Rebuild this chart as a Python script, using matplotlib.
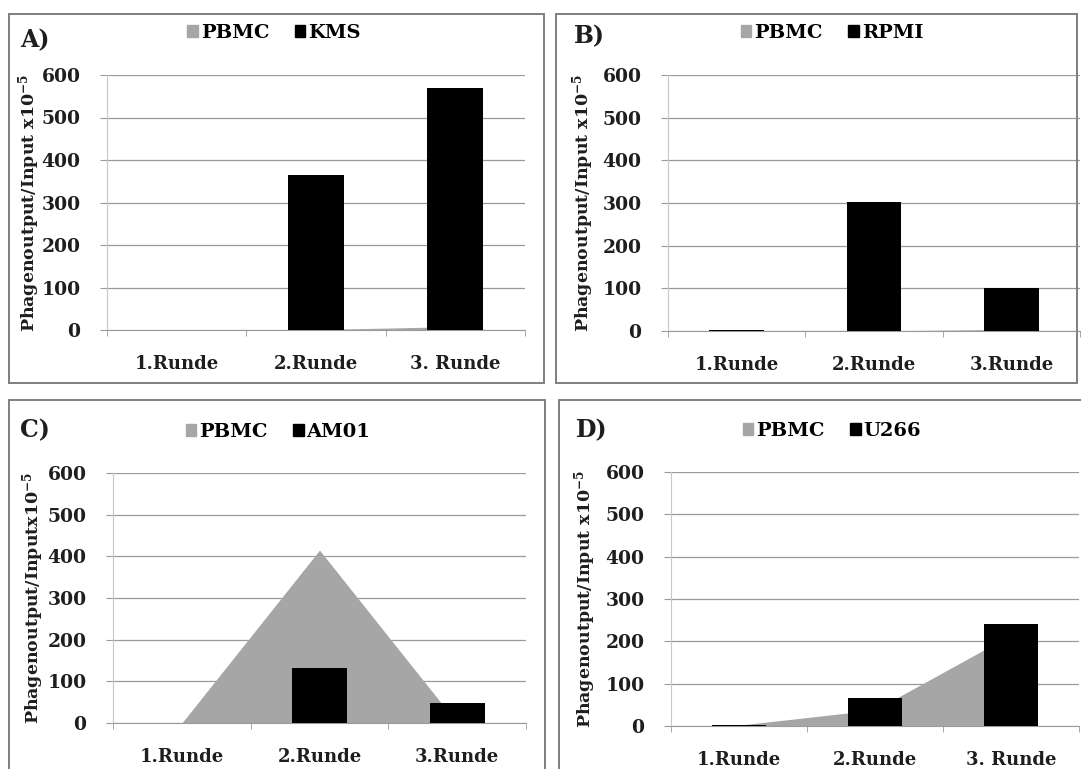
import numpy as np
import matplotlib.pyplot as plt
from matplotlib.patches import Rectangle, Patch

# data
runden_a = ['1.Runde', '2.Runde', '3. Runde']
runden_b = ['1.Runde', '2.Runde', '3.Runde']
runden_c = ['1.Runde', '2.Runde', '3.Runde']
runden_d = ['1.Runde', '2.Runde', '3. Runde']

pbmc_a = [0, 1, 8]
kms = [0, 365, 570]
pbmc_b = [0, 0, 4]
rpmi = [2, 302, 100]
pbmc_c = [0, 415, 0]
am01 = [0, 133, 49]
pbmc_d = [2, 38, 215]
u266 = [2, 65, 242]

plt.rcParams['font.family'] = ['DejaVu Serif']
plt.rcParams['mathtext.fontset'] = 'dejavuserif'

W, H = 1081, 769
fig = plt.figure(figsize=(W / 100, H / 100), dpi=100)
fig.patch.set_facecolor('white')

GRAY = '#a6a6a6'
LINE = '#9a9a9a'
BOX = '#7f7f7f'
TXT = '#1e1e1e'


def px_axes(l, r, t, b):
    return fig.add_axes([l / W, 1 - b / H, (r - l) / W, (b - t) / H])


def box(l, t, r, b):
    fig.add_artist(Rectangle((l / W, 1 - b / H), (r - l) / W, (b - t) / H,
                             transform=fig.transFigure, fill=False,
                             edgecolor=BOX, lw=1.4))


def panel(ax, pbmc, cell, cell_name, cats, letter, ylab, lab_x, leg_x, leg_y, let_x, let_y):
    x = np.arange(len(cats))
    ax.fill_between(x, 0, pbmc, color=GRAY, lw=0, zorder=2)
    ax.bar(x, cell, width=0.4, color='black', zorder=3)
    ax.set_xlim(-0.5, 2.5)
    ax.set_ylim(0, 600)
    ax.set_yticks(range(0, 601, 100))
    ax.grid(axis='y', color=LINE, lw=0.9, zorder=0)
    ax.set_xticks(x)
    ax.set_xticklabels(cats, fontsize=13, fontweight='semibold', color=TXT)
    ax.set_xticks([-0.5, 0.5, 1.5, 2.5], minor=True)
    ax.tick_params(axis='x', which='major', length=0, pad=18)
    ax.tick_params(axis='x', which='minor', length=4, color=LINE, direction='out')
    ax.tick_params(axis='y', length=5, color=LINE, pad=14, labelsize=13.5)
    for t in ax.get_yticklabels():
        t.set_fontweight('semibold')
        t.set_color(TXT)
    for s in ['top', 'right']:
        ax.spines[s].set_visible(False)
    ax.spines['left'].set_color('#c8c8c8')
    ax.spines['bottom'].set_color(LINE)
    ax.set_facecolor('none')

    pos = ax.get_position()
    fig.text(lab_x / W, (pos.y0 + pos.y1) / 2, ylab, rotation=90, ha='center', va='center',
             fontsize=12.5, fontweight='semibold', color=TXT)
    fig.text(let_x / W, 1 - let_y / H, letter, ha='left', va='center',
             fontsize=17, fontweight='semibold', color=TXT)
    handles = [Patch(color=GRAY, label='PBMC'), Patch(color='black', label=cell_name)]
    fig.legend(handles=handles, loc='center', bbox_to_anchor=(leg_x / W, 1 - leg_y / H),
               ncol=2, frameon=False, handlelength=0.55, handleheight=0.6,
               handletextpad=0.15, columnspacing=1.3,
               prop={'size': 14, 'weight': 'semibold'})


# panel frames
box(9, 14, 544, 383)
box(556, 14, 1077, 383)
box(9, 400, 545, 775)
box(559, 400, 1085, 775)

axA = px_axes(107, 525, 75, 330)
panel(axA, pbmc_a, kms, 'KMS', runden_a, 'A)', r'Phagenoutput/Input x10$^{\mathbf{-5}}$',
      29, 274, 33, 20, 40)

axB = px_axes(668, 1080, 75, 331)
panel(axB, pbmc_b, rpmi, 'RPMI', runden_b, 'B)', r'Phagenoutput/Input x10$^{\mathbf{-5}}$',
      583, 832, 33, 574, 36)

axC = px_axes(113, 526, 473, 723)
panel(axC, pbmc_c, am01, 'AM01', runden_c, 'C)', r'Phagenoutput/Inputx10$^{\mathbf{-5}}$',
      33, 278, 432, 20, 430)

axD = px_axes(671, 1079, 472, 726)
panel(axD, pbmc_d, u266, 'U266', runden_d, 'D)', r'Phagenoutput/Input x10$^{\mathbf{-5}}$',
      585, 832, 431, 576, 430)

fig.savefig('out.png', dpi=100, facecolor='white')
